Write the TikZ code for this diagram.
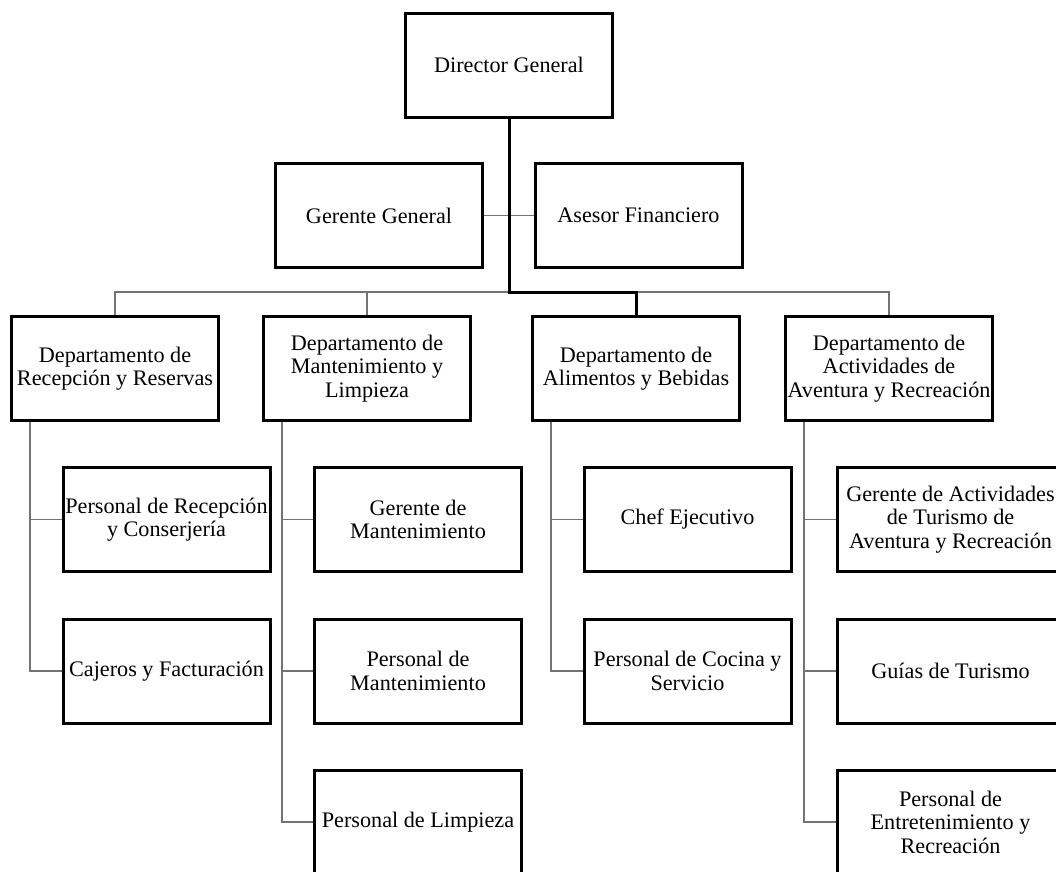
\documentclass[tikz,border=0pt]{standalone}
\usepackage{fontspec}
\setmainfont{Liberation Serif}

\begin{document}
\begin{tikzpicture}[x=1pt,y=-1pt,
  box/.style={draw,line width=3pt,minimum width=207pt,minimum height=104pt,align=center,inner sep=1pt,font=\fontsize{22.2}{23.5}\selectfont},
  widebox/.style={box,minimum width=226pt},
  thinline/.style={draw=black!55,line width=1.5pt},
  thickline/.style={draw=black,line width=3pt}]
\useasboundingbox (0,0) rectangle (1056,871);
\clip (0,0) rectangle (1056,871);
% top levels
\node[box] (dg) at (509,65) {Director General};
\node[box] (gg) at (379,215.5) {Gerente General};
\node[box] (af) at (638.5,215.5) {Asesor Financiero};
% departments
\node[box] (d1) at (115,368.5) {Departamento de\\Recepción y Reservas};
\node[box] (d2) at (367,368.5) {Departamento de\\Mantenimiento y\\Limpieza};
\node[box] (d3) at (636,368.5) {Departamento de\\Alimentos y Bebidas};
\node[box] (d4) at (889,368.5) {Departamento de\\Actividades de\\Aventura y Recreación};
% staff
\node[box] (c11) at (166.5,519.5) {Personal de Recepción\\y Conserjería};
\node[box] (c12) at (166.5,671) {Cajeros y Facturación};
\node[box] (c21) at (418,519.5) {Gerente de\\Mantenimiento};
\node[box] (c22) at (418,671) {Personal de\\Mantenimiento};
\node[box] (c23) at (418,822) {Personal de Limpieza};
\node[box] (c31) at (687.5,519.5) {Chef Ejecutivo};
\node[box] (c32) at (687.5,671) {Personal de Cocina y\\Servicio};
\node[widebox] (c41) at (950.5,519.5) {Gerente de Actividades\\de Turismo de\\Aventura y Recreación};
\node[widebox] (c42) at (950.5,671) {Guías de Turismo};
\node[widebox] (c43) at (950.5,822) {Personal de\\Entretenimiento y\\Recreación};
\coordinate (bus) at (0,292);
% connectors
\draw[thinline] (gg.east) -- (af.west);
\draw[thinline] (d1.north) -- (d1.north |- bus) -- (d4.north |- bus) -- (d4.north);
\draw[thinline] (d2.north) -- (d2.north |- bus);
\draw[thickline] (dg.south) -- (dg.south |- bus) -| (d3.north);
\draw[thinline] ([xshift=20pt]d1.south west) |- (c11.west);
\draw[thinline] ([xshift=20pt]d1.south west) |- (c12.west);
\draw[thinline] ([xshift=20pt]d2.south west) |- (c21.west);
\draw[thinline] ([xshift=20pt]d2.south west) |- (c22.west);
\draw[thinline] ([xshift=20pt]d2.south west) |- (c23.west);
\draw[thinline] ([xshift=20pt]d3.south west) |- (c31.west);
\draw[thinline] ([xshift=20pt]d3.south west) |- (c32.west);
\draw[thinline] ([xshift=20pt]d4.south west) |- (c41.west);
\draw[thinline] ([xshift=20pt]d4.south west) |- (c42.west);
\draw[thinline] ([xshift=20pt]d4.south west) |- (c43.west);
\end{tikzpicture}
\end{document}
